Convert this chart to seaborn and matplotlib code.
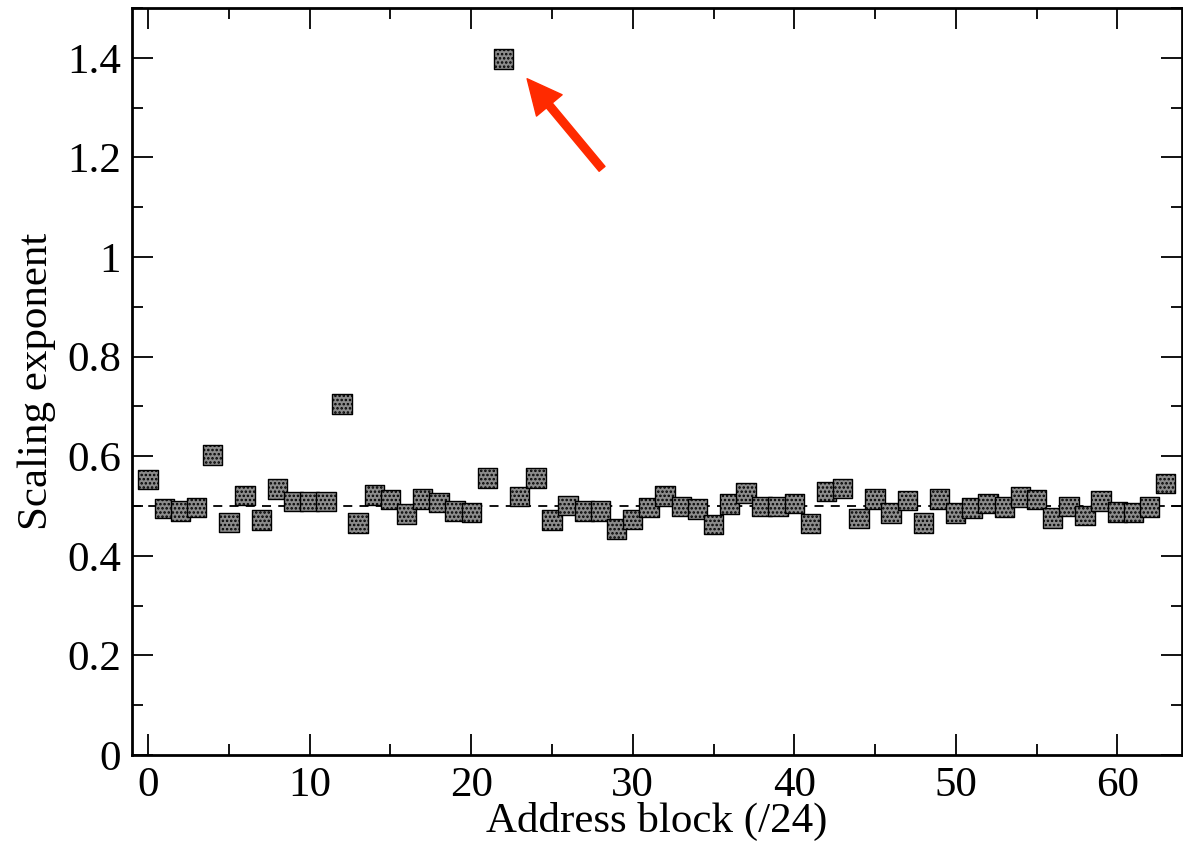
import numpy as np
import pandas as pd
import matplotlib
matplotlib.use("Agg")
import matplotlib.pyplot as plt
from matplotlib.ticker import MultipleLocator, FuncFormatter
import seaborn as sns

# Scaling exponent per /24 address block
blocks = list(range(64))
exponents = [
    0.553, 0.495, 0.490, 0.497, 0.602, 0.467, 0.521, 0.472, 0.534, 0.509,
    0.509, 0.509, 0.705, 0.466, 0.522, 0.513, 0.484, 0.514, 0.507, 0.490,
    0.487, 0.556, 1.398, 0.519, 0.556, 0.472, 0.501, 0.490, 0.490, 0.454,
    0.473, 0.497, 0.520, 0.499, 0.494, 0.463, 0.504, 0.526, 0.499, 0.499,
    0.505, 0.465, 0.529, 0.535, 0.475, 0.514, 0.486, 0.511, 0.466, 0.514,
    0.486, 0.496, 0.505, 0.498, 0.518, 0.513, 0.476, 0.499, 0.481, 0.510,
    0.488, 0.487, 0.498, 0.545,
]
reference_level = 0.5
x_ticks = [0, 10, 20, 30, 40, 50, 60]
y_ticks = [0, 0.2, 0.4, 0.6, 0.8, 1.0, 1.2, 1.4]

df = pd.DataFrame({"block": blocks, "exponent": exponents})

sns.set_style("ticks")
plt.rcParams["font.family"] = ["Liberation Serif", "DejaVu Serif"]
plt.rcParams["hatch.linewidth"] = 1.2
for key in ["text.color", "axes.labelcolor", "xtick.color", "ytick.color",
            "axes.edgecolor"]:
    plt.rcParams[key] = "black"

fig = plt.figure(figsize=(11.83, 8.44), dpi=100)
ax = fig.add_axes([0.1116, 0.1055, 0.8875, 0.885])

ax.axhline(reference_level, color="black", lw=1.3, ls=(0, (5, 4)), zorder=1)

sns.scatterplot(
    data=df, x="block", y="exponent", ax=ax, marker="s", s=195,
    color="#8c8c8c", edgecolor="black", linewidth=1.0, hatch="....",
    zorder=3, legend=False,
)

# Highlight the outlying block
i_max = int(np.argmax(exponents))
ax.annotate(
    "", xy=(blocks[i_max] + 1.46, exponents[i_max] - 0.04),
    xytext=(blocks[i_max] + 6.1, exponents[i_max] - 0.221),
    arrowprops=dict(color="#ff2a00", width=5.5, headwidth=24,
                    headlength=25, shrink=0.0),
    zorder=4,
)

ax.set_xlim(-1, 64)
ax.set_ylim(0, 1.5)
ax.set_xticks(x_ticks)
ax.set_yticks(y_ticks)
ax.xaxis.set_minor_locator(MultipleLocator(5))
ax.yaxis.set_minor_locator(MultipleLocator(0.1))
ax.yaxis.set_major_formatter(FuncFormatter(lambda v, p: f"{v:g}"))

ax.tick_params(which="both", direction="in", top=True, right=True,
               labelsize=31, width=1.3, color="black", labelcolor="black")
ax.tick_params(which="major", length=15, pad=8)
ax.tick_params(which="minor", length=8)
for side in ["left", "right", "top", "bottom"]:
    ax.spines[side].set_visible(True)
    ax.spines[side].set_linewidth(2.0)
    ax.spines[side].set_color("black")

ax.set_xlabel("Address block (/24)", fontsize=31, labelpad=-2)
ax.set_ylabel("Scaling exponent", fontsize=31, labelpad=8)

fig.savefig("out.png", dpi=100, facecolor="white")
